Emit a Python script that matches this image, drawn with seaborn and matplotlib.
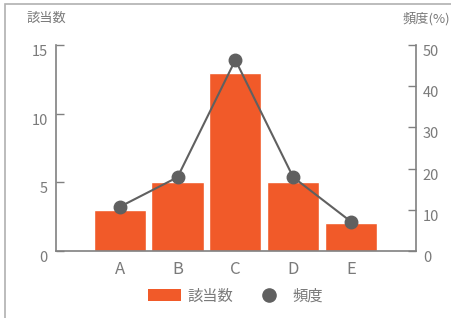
import seaborn as sns
import matplotlib.pyplot as plt
import pandas as pd
from matplotlib.patches import Patch, Rectangle
from matplotlib.lines import Line2D

sns.set_theme(style="white")
plt.rcParams['font.family'] = ['Noto Sans CJK JP', 'DejaVu Sans']

categories = ["A", "B", "C", "D", "E"]
counts = [3, 5, 13, 5, 2]
freq_pct = [10.7, 17.9, 46.4, 17.9, 7.1]

df = pd.DataFrame({"cat": categories, "count": counts, "freq": freq_pct})

bar_color = "#f15a29"
line_color = "#606060"
axis_color = "#808080"
text_color = "#7a7a7a"

fig = plt.figure(figsize=(4.52, 3.18), dpi=100)
ax = fig.add_axes([0.124, 0.211, 0.796, 0.647])

sns.barplot(data=df, x="cat", y="count", color=bar_color, width=0.9,
            saturation=1, ax=ax)
ax2 = ax.twinx()
ax2.plot(range(len(categories)), df["freq"], color=line_color, lw=1.5,
         marker="o", markersize=9, zorder=5)

ax.set_xlim(-1.1, 5.12)
ax.set_ylim(0, 15)
ax2.set_ylim(0, 50)
ax.set_yticks([0, 5, 10, 15])
ax2.set_yticks([0, 10, 20, 30, 40, 50])
ax.set_xlabel("")
ax.set_ylabel("")

for a in (ax, ax2):
    for s in a.spines.values():
        s.set_visible(False)
ax.spines["left"].set_visible(True)
ax.spines["bottom"].set_visible(True)
ax2.spines["right"].set_visible(True)
for s in (ax.spines["left"], ax.spines["bottom"], ax2.spines["right"]):
    s.set_color(axis_color)
    s.set_linewidth(1.2)

ax.tick_params(axis="y", direction="in", length=6, width=1, color=axis_color,
               labelsize=10.5, labelcolor=text_color, pad=6, left=True)
ax2.tick_params(axis="y", direction="in", length=6, width=1, color=axis_color,
                labelsize=10.5, labelcolor=text_color, pad=5, right=True)
ax.tick_params(axis="x", length=0, labelsize=12, labelcolor=text_color, pad=7)
for lbl in ax.get_yticklabels() + ax2.get_yticklabels():
    lbl.set_va("top")

fig.text(27 / 452, 0.93, "該当数", fontsize=9.5, color=text_color)
fig.text(0.995, 0.93, "頻度(%)", fontsize=9.5, color=text_color, ha="right")

handles = [Patch(facecolor=bar_color, edgecolor="none"),
           Line2D([], [], color=line_color, marker="o", linestyle="none",
                  markersize=9.5)]
fig.legend(handles, ["該当数", "頻度"], loc="center",
           bbox_to_anchor=(0.521, 0.069), ncol=2, frameon=False,
           fontsize=11, labelcolor=text_color, handlelength=2.15,
           handleheight=0.85, handletextpad=0.45, columnspacing=1.3)

fig.patches.append(Rectangle((5 / 452, -0.1), 1.2, 1 - 4 / 318 + 0.1,
                             transform=fig.transFigure, fill=False,
                             edgecolor="#b0b0b0", lw=1.2))

fig.savefig("out.png", dpi=100)
